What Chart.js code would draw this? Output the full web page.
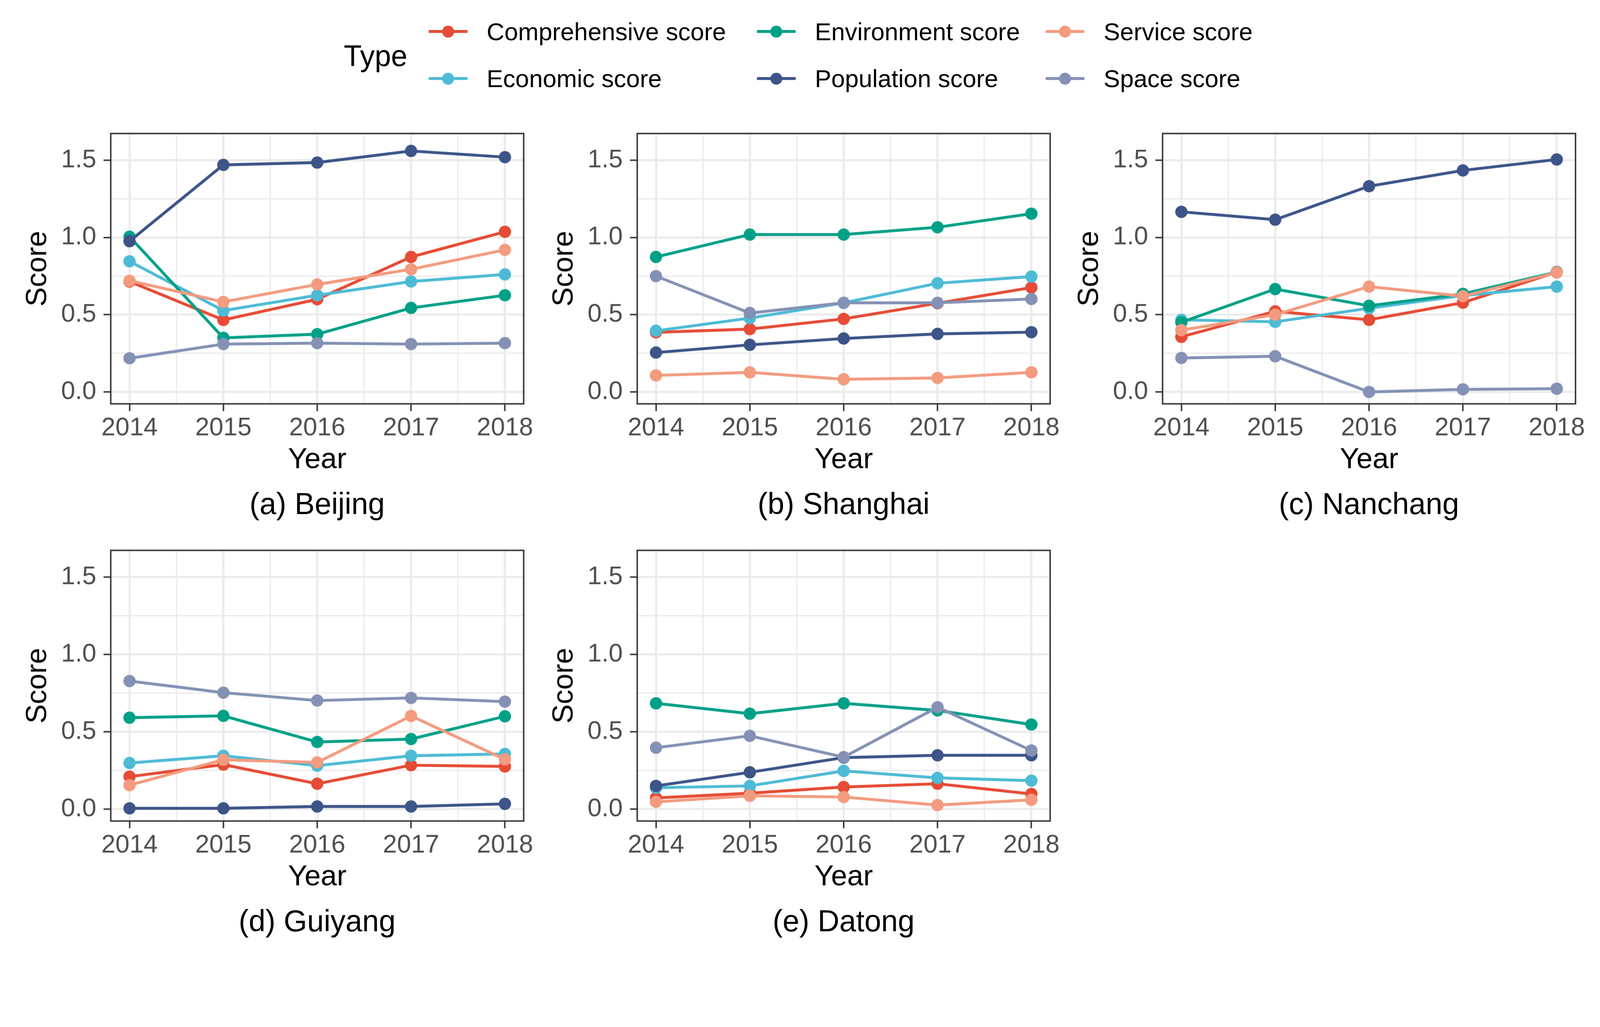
<!DOCTYPE html>
<html>
<head>
<meta charset="utf-8">
<script src="https://cdn.jsdelivr.net/npm/chart.js@4.4.1/dist/chart.umd.min.js"></script>
<style>
  html, body { margin: 0; padding: 0; background: #fff; overflow: hidden; }
  #page { width: 4422px; height: 2629px; position: absolute; left: 0; top: 0;
          transform-origin: 0 0; font-family: "Liberation Sans", Arial, sans-serif; }
  canvas { position: absolute; }
  .caption { position: absolute; width: 1200px; text-align: center; font-size: 83px;
             color: #000; line-height: 1; transform: translate(-50%, -50%); }
  .legend-title { position: absolute; font-size: 81px; color: #000; line-height: 1;
                  transform: translateY(-50%); }
  .legend-item { position: absolute; height: 60px; transform: translateY(-50%); }
  .legend-item .key { position: absolute; left: 0; top: 50%; width: 107px; height: 8px;
                      margin-top: -4px; }
  .legend-item .dot { position: absolute; left: 37px; top: 50%; width: 33px; height: 33px;
                      margin-top: -16.5px; border-radius: 50%; }
  .legend-item .txt { position: absolute; left: 160px; top: 50%; transform: translateY(-50%);
                      font-size: 68px; color: #000; white-space: nowrap; line-height: 1; }
</style>
</head>
<body>
<div id="page"><div id="legend"></div></div>
<script>
document.addEventListener('DOMContentLoaded', () => {

    const years = [2014, 2015, 2016, 2017, 2018];
    const seriesNames = ['Comprehensive score', 'Economic score', 'Environment score',
                         'Population score', 'Service score', 'Space score'];
    const seriesColors = ['#E64B35', '#4DBBD5', '#00A087', '#3C5488', '#F39B7F', '#8491B4'];
    const yTicks = [0, 0.5, 1.0, 1.5];

    // each city: rows in seriesNames order, columns in years order
    const beijing = [
        [0.715, 0.466, 0.600, 0.874, 1.037],
        [0.846, 0.527, 0.626, 0.715, 0.761],
        [1.005, 0.350, 0.374, 0.544, 0.626],
        [0.976, 1.470, 1.485, 1.560, 1.520],
        [0.720, 0.583, 0.696, 0.794, 0.920],
        [0.218, 0.310, 0.316, 0.310, 0.316]
    ];
    const shanghai = [
        [0.386, 0.407, 0.473, 0.574, 0.676],
        [0.396, 0.478, 0.577, 0.704, 0.747],
        [0.874, 1.019, 1.019, 1.066, 1.154],
        [0.255, 0.305, 0.346, 0.376, 0.387],
        [0.107, 0.127, 0.082, 0.091, 0.127],
        [0.750, 0.511, 0.577, 0.577, 0.602]
    ];
    const nanchang = [
        [0.357, 0.522, 0.467, 0.578, 0.776],
        [0.467, 0.454, 0.542, 0.624, 0.682],
        [0.451, 0.666, 0.558, 0.635, 0.776],
        [1.166, 1.115, 1.332, 1.434, 1.505],
        [0.400, 0.500, 0.682, 0.620, 0.773],
        [0.220, 0.231, 0.000, 0.017, 0.021]
    ];
    const guiyang = [
        [0.210, 0.288, 0.164, 0.284, 0.276],
        [0.298, 0.345, 0.281, 0.345, 0.357],
        [0.591, 0.603, 0.434, 0.453, 0.600],
        [0.005, 0.005, 0.017, 0.017, 0.034],
        [0.155, 0.319, 0.302, 0.602, 0.322],
        [0.828, 0.753, 0.702, 0.719, 0.695]
    ];
    const datong = [
        [0.072, 0.103, 0.143, 0.164, 0.098],
        [0.138, 0.150, 0.247, 0.202, 0.184],
        [0.684, 0.617, 0.684, 0.638, 0.547],
        [0.150, 0.238, 0.333, 0.348, 0.348],
        [0.047, 0.086, 0.078, 0.026, 0.060],
        [0.397, 0.474, 0.336, 0.659, 0.379]
    ];

    const FONT = '"Liberation Sans", Arial, sans-serif';
    const GRID = '#EBEBEB';
    const DARK = '#333333';

    // scale the 4422-wide layout to whatever the viewport really is
    const page = document.getElementById('page');
    const S = Math.min(window.innerWidth / 4422, window.innerHeight / 2629);
    page.style.transform = 'scale(' + S + ')';
    const DPR = S * (window.devicePixelRatio || 1);

    // major + minor gridline positions (ggplot style)
    const xGrid = [];
    years.forEach((y, i) => { xGrid.push(y); if (i < years.length - 1) xGrid.push(y + 0.5); });
    const yGrid = [];
    yTicks.forEach((v, i) => { yGrid.push(v); if (i < yTicks.length - 1) yGrid.push((v + yTicks[i + 1]) / 2); });
    const isMajorX = v => years.includes(v);
    const isMajorY = v => yTicks.includes(v);

    // panel plot boxes on the page
    const panels = [
        { data: beijing,  caption: '(a) Beijing',  left: 306,  top: 369,  w: 1141, h: 747 },
        { data: shanghai, caption: '(b) Shanghai', left: 1761, top: 369,  w: 1141, h: 747 },
        { data: nanchang, caption: '(c) Nanchang', left: 3213, top: 369,  w: 1141, h: 747 },
        { data: guiyang,  caption: '(d) Guiyang',  left: 306,  top: 1521, w: 1141, h: 748 },
        { data: datong,   caption: '(e) Datong',   left: 1761, top: 1521, w: 1141, h: 748 }
    ];

    const Y_AXIS_W = 253;
    const X_AXIS_H = 208;
    const PAD_TOP = 40;
    const PAD_RIGHT = 80;

    const panelBorder = {
        id: 'panelBorder',
        afterDatasetsDraw(chart) {
            const a = chart.chartArea;
            const ctx = chart.ctx;
            ctx.save();
            ctx.strokeStyle = DARK;
            ctx.lineWidth = 4;
            ctx.strokeRect(a.left, a.top, a.right - a.left, a.bottom - a.top);
            ctx.restore();
        }
    };

    function makeChart(canvas, p, cw, ch) {
        canvas.width = cw;
        canvas.height = ch;
        canvas.style.width = cw + 'px';
        canvas.style.height = ch + 'px';

        const datasets = seriesNames.map((name, i) => ({
            label: name,
            data: years.map((yr, j) => ({ x: yr, y: p.data[i][j] })),
            borderColor: seriesColors[i],
            backgroundColor: seriesColors[i],
            pointBackgroundColor: seriesColors[i],
            pointBorderWidth: 0,
            pointRadius: 17,
            borderWidth: 8,
            order: seriesNames.length - i,
            clip: 20
        }));

        return new Chart(canvas.getContext('2d'), {
            type: 'line',
            data: { datasets },
            options: {
                responsive: false,
                animation: false,
                devicePixelRatio: DPR,
                layout: { padding: { top: PAD_TOP, right: PAD_RIGHT, left: 0, bottom: 0 } },
                plugins: { legend: { display: false }, tooltip: { enabled: false } },
                scales: {
                    x: {
                        type: 'linear', min: 2013.8, max: 2018.2,
                        afterBuildTicks: s => { s.ticks = xGrid.map(v => ({ value: v })); },
                        afterFit: s => { s.height = X_AXIS_H; },
                        border: { display: false },
                        grid: {
                            color: GRID,
                            lineWidth: c => isMajorX(c.tick.value) ? 6 : 3.5,
                            tickLength: 20,
                            tickColor: c => isMajorX(c.tick.value) ? DARK : 'rgba(0,0,0,0)',
                            tickWidth: 4
                        },
                        ticks: {
                            autoSkip: false, maxRotation: 0,
                            padding: 6, color: '#4D4D4D', font: { family: FONT, size: 70 },
                            callback: v => isMajorX(v) ? String(v) : ''
                        },
                        title: {
                            display: true, text: 'Year', color: '#000',
                            font: { family: FONT, size: 80 }, padding: { top: 0, bottom: 4 }
                        }
                    },
                    y: {
                        min: -0.077, max: 1.673,
                        afterBuildTicks: s => { s.ticks = yGrid.map(v => ({ value: v })); },
                        afterFit: s => { s.width = Y_AXIS_W; },
                        border: { display: false },
                        grid: {
                            color: GRID,
                            lineWidth: c => isMajorY(c.tick.value) ? 6 : 3.5,
                            tickLength: 20,
                            tickColor: c => isMajorY(c.tick.value) ? DARK : 'rgba(0,0,0,0)',
                            tickWidth: 4
                        },
                        ticks: {
                            autoSkip: false,
                            padding: 20, color: '#4D4D4D', font: { family: FONT, size: 70 },
                            callback: v => isMajorY(v) ? v.toFixed(1) : ''
                        },
                        title: {
                            display: true, text: 'Score', color: '#000',
                            font: { family: FONT, size: 80 }, padding: { top: 4, bottom: 0 }
                        }
                    }
                }
            },
            plugins: [panelBorder]
        });
    }

    panels.forEach(p => {
        const canvas = document.createElement('canvas');
        page.appendChild(canvas);

        let cw = Y_AXIS_W + p.w + PAD_RIGHT;
        let ch = PAD_TOP + p.h + X_AXIS_H;
        let chart = makeChart(canvas, p, cw, ch);

        // make the plot area exactly the wanted size, then place it
        let a = chart.chartArea;
        const dw = p.w - (a.right - a.left);
        const dh = p.h - (a.bottom - a.top);
        if (Math.abs(dw) > 0.5 || Math.abs(dh) > 0.5) {
            chart.destroy();
            cw += dw;
            ch += dh;
            chart = makeChart(canvas, p, cw, ch);
            a = chart.chartArea;
        }
        canvas.style.left = (p.left - a.left) + 'px';
        canvas.style.top = (p.top - a.top) + 'px';

        const cap = document.createElement('div');
        cap.className = 'caption';
        cap.textContent = p.caption;
        cap.style.left = (p.left + p.w / 2) + 'px';
        cap.style.top = (p.top + p.h + 276) + 'px';
        page.appendChild(cap);
    });

    // legend: "Type" + 3 columns x 2 rows
    const legend = document.getElementById('legend');
    const title = document.createElement('div');
    title.className = 'legend-title';
    title.textContent = 'Type';
    title.style.left = '950px';
    title.style.top = '155px';
    legend.appendChild(title);

    const colX = [1185, 2092, 2890];
    const rowY = [87, 217];
    seriesNames.forEach((name, i) => {
        const col = Math.floor(i / 2);
        const row = i % 2;
        const item = document.createElement('div');
        item.className = 'legend-item';
        item.style.left = colX[col] + 'px';
        item.style.top = rowY[row] + 'px';
        item.innerHTML = '<div class="key" style="background:' + seriesColors[i] + '"></div>' +
                         '<div class="dot" style="background:' + seriesColors[i] + '"></div>' +
                         '<div class="txt">' + name + '</div>';
        legend.appendChild(item);
    });
});
</script>
</body>
</html>
